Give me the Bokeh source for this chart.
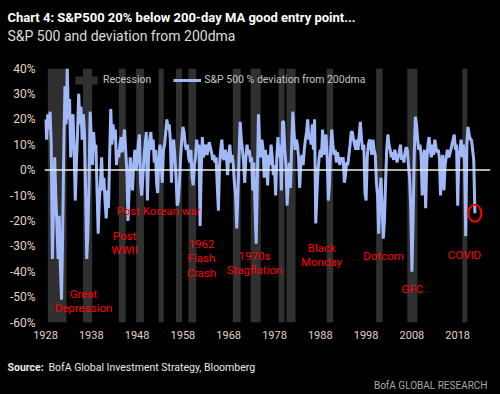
from bokeh.plotting import figure
from bokeh.models import Range1d, FixedTicker, Label, Legend, LegendItem, Span
from bokeh.embed import file_html
from bokeh.resources import INLINE

# ---------------- data ----------------
START_YEAR = 1928.0
STEP = 0.25  # quarterly samples

dev_1928_1937 = [20, 12, 22, 16, 23, 10, -35, -15, 5, -10, -22, -35, -18, -38, -51, -25,
                 10, 33, 18, 40, 20, 28, 5, 15, 22, 8, -12, 3, 15, 30, 18, 25,
                 12, 22, 15, -8, -35, -25, -5, 23]
dev_1938_1947 = [12, 2, 15, 8, 10, -8, -25, -12, -5, 5, -8, -3, -12, -19, -8, -15,
                 5, 24, 10, 18, 12, 16, 2, 8, 5, 10, 13, 7, 12, 16, 8, 0,
                 -20, -8, 5, -3, -8, 2, 8, 0]
dev_1948_1957 = [3, 10, 14, -5, -10, -3, 5, 10, 15, -12, 5, 12, 15, 8, 12, 3,
                 8, -5, -9, 6, 10, 2, -5, 8, 10, 15, 20, 16, 18, 12, -5, 10,
                 12, 5, -3, -14, -12, -5, 5, 12]
dev_1958_1967 = [17, 15, 10, 8, 10, 5, 3, 8, -3, -6, 2, 5, 12, 8, 10, -22,
                 0, 13, 5, 8, 10, 6, 8, 11, 9, 7, 4, 6, 3, 5, -6, -16,
                 2, 8, 12, 5, 4, 8, 6, -2]
dev_1968_1977 = [5, 10, 3, 6, 2, -5, -10, -23, -10, 5, 19, 12, 8, 3, -5, 5,
                 10, 6, 8, 3, 5, -8, 3, -15, -29, -5, 22, 10, 5, 12, 8, -3,
                 8, 3, -6, 6, 2, 10, 5, -2]
dev_1978_1987 = [2, -10, 5, 13, 5, 10, -8, 19, 19, 8, 2, -14, -5, 3, -7, 10,
                 23, 15, 8, 12, 10, 5, -7, 3, 6, 2, 8, 12, 15, 20, 12, 14,
                 10, 18, 8, 20, -21, -10, 0, 5]
dev_1988_1997 = [8, 5, 16, 6, 10, 14, 5, -12, -6, 8, 16, 10, 6, 8, 3, 7,
                 4, 2, 5, 3, 5, -5, -2, 3, 2, 6, 10, 15, 15, 12, 10, 8,
                 12, 8, 14, 19, 12, 8, 10, -9]
dev_1998_2007 = [-12, 5, 10, 12, 10, 6, 12, 8, 6, -5, -10, -25, -10, -3, -15, -27,
                 -20, -5, 8, 14, 10, 8, 5, 7, 4, 8, 6, 3, 5, 7, 10, 4,
                 6, 3, 7, 9, 8, 2, -3, -15]
dev_2008_2017 = [-40, -20, 5, 21, 18, 12, 8, 10, 6, -10, 5, 8, -15, 3, 10, 13,
                 8, 5, 10, 6, 12, 9, 7, 8, 5, -10, 3, 6, -8, 2, 5, 8,
                 5, 6, 8, 10, 12, 14, 8, 10]
dev_2018_2021 = [-14, 5, 8, 12, 5, 10, 3, -26, 10, 17, 14, 12, 12, 8, 4, -17]

deviation = (dev_1928_1937 + dev_1938_1947 + dev_1948_1957 + dev_1958_1967 +
             dev_1968_1977 + dev_1978_1987 + dev_1988_1997 + dev_1998_2007 +
             dev_2008_2017 + dev_2018_2021)
years = [START_YEAR + STEP * i for i in range(len(deviation))]

recession_start = [1928.5, 1936.2, 1944.0, 1947.8, 1952.7, 1956.5, 1959.2, 1968.9,
                   1972.8, 1978.9, 1980.6, 1989.4, 2000.2, 2007.0, 2019.0]
recession_end = [1932.6, 1938.2, 1945.5, 1949.5, 1953.8, 1957.8, 1960.9, 1970.6,
                 1975.0, 1980.2, 1982.6, 1990.8, 2001.6, 2009.2, 2020.1]

x_ticks = [1928, 1938, 1948, 1958, 1968, 1978, 1988, 1998, 2008, 2018]
y_ticks = [-60, -50, -40, -30, -20, -10, 0, 10, 20, 30, 40]

events = [
    (["Great", "Depression"], 83, 293),
    (["Post", "WWII"], 124, 235),
    (["Post Korean war"], 158, 210),
    (["1962", "Flash", "Crash"], 201, 243),
    (["1970s", "Stagflation"], 254, 255),
    (["Black", "Monday"], 321, 247),
    (["Dotcom"], 383, 255),
    (["GFC"], 412, 288),
    (["COVID"], 464, 254),
]

# ---------------- styling ----------------
FONT = "Roboto"
BG = "#000000"
BAR_COLOR = "#303030"
LINE_COLOR = "#a0b8f6"
TICK_COLOR = "#e3d3c2"
RED = "#ff0000"

X0, X1 = 1927.78, 2025.16
Y0, Y1 = -60, 40


def sx_to_x(sx):
    return 1928 + (sx - 45) / 4.58


def sy_to_y(sy):
    return 40 - (sy - 68) / 2.54


p = figure(width=500, height=394, x_range=Range1d(X0, X1), y_range=Range1d(Y0, Y1),
           output_backend="svg", toolbar_location=None,
           min_border_left=44, min_border_right=10, min_border_top=68, min_border_bottom=72,
           background_fill_color=BG, border_fill_color=BG, outline_line_color=None)
p.xgrid.visible = False
p.ygrid.visible = False

rec = p.quad(left=recession_start, right=recession_end, top=Y1, bottom=Y0,
             fill_color=BAR_COLOR, line_color=None)
ln = p.line(years, deviation, line_color=LINE_COLOR, line_width=3, line_join="bevel")

p.add_layout(Span(location=0, dimension="width", line_color="#eeeeee", line_width=1.5))

# red circle on the latest reading
p.ellipse(x=[years[-1]], y=[deviation[-1]], width=13, height=17,
          width_units="screen", height_units="screen",
          fill_color=None, line_color=RED, line_width=2)

for ax in (p.xaxis[0], p.yaxis[0]):
    ax.axis_line_color = None
    ax.major_tick_line_color = None
    ax.minor_tick_line_color = None
    ax.major_tick_in = 0
    ax.major_tick_out = 0
    ax.major_label_text_color = TICK_COLOR
    ax.major_label_text_font = FONT

p.xaxis.ticker = FixedTicker(ticks=x_ticks)
p.xaxis.major_label_overrides = {t: str(t) for t in x_ticks}
p.xaxis.major_label_standoff = 8
p.xaxis.major_label_text_font_size = "11px"
p.yaxis.ticker = FixedTicker(ticks=y_ticks)
p.yaxis.major_label_overrides = {t: f"{t}%" for t in y_ticks}
p.yaxis.major_label_standoff = 9
p.yaxis.major_label_text_font_size = "12px"

legend = Legend(items=[LegendItem(label="Recession", renderers=[rec]),
                       LegendItem(label="S&P 500 % deviation from 200dma", renderers=[ln])],
                location=(28, 236), orientation="horizontal",
                background_fill_alpha=0, border_line_alpha=0,
                label_text_color="#c4c4c4", label_text_font=FONT, label_text_font_size="10.5px",
                glyph_width=28, glyph_height=10, label_height=10, label_standoff=3,
                spacing=22, padding=0, margin=0)
p.add_layout(legend)


def make_text(text, sx, sy, size, color, align="left", style="normal"):
    return Label(x=sx_to_x(sx), y=sy_to_y(sy), text=text, text_font=FONT,
                 text_font_size=f"{size}px", text_color=color, text_align=align,
                 text_baseline="middle", text_font_style=style)


for lines, sx, sy in events:
    for k, t in enumerate(lines):
        p.add_layout(make_text(t, sx, sy + 14.5 * k, 11.5, RED, align="center"))

p.add_layout(make_text("Chart 4: S&P500 20% below 200-day  MA good entry point...",
                       7, 17, 13, "#ffffff", style="bold"), "above")
p.add_layout(make_text("S&P 500 and deviation from 200dma", 7, 35, 14, "#dcdcdc"), "above")
p.add_layout(make_text("Source:", 7, 367, 10.5, "#e8e8e8", style="bold"), "below")
p.add_layout(make_text("BofA Global Investment Strategy, Bloomberg", 48, 367, 10.5, "#e8e8e8"), "below")
p.add_layout(make_text("BofA GLOBAL RESEARCH", 487, 385, 10, "#a8a8a8", align="right"), "below")

html = file_html(p, INLINE, title="chart")
html = html.replace("<head>", "<head><style>html,body{background:#000000;}</style>", 1)
open("out.html", "w").write(html)
